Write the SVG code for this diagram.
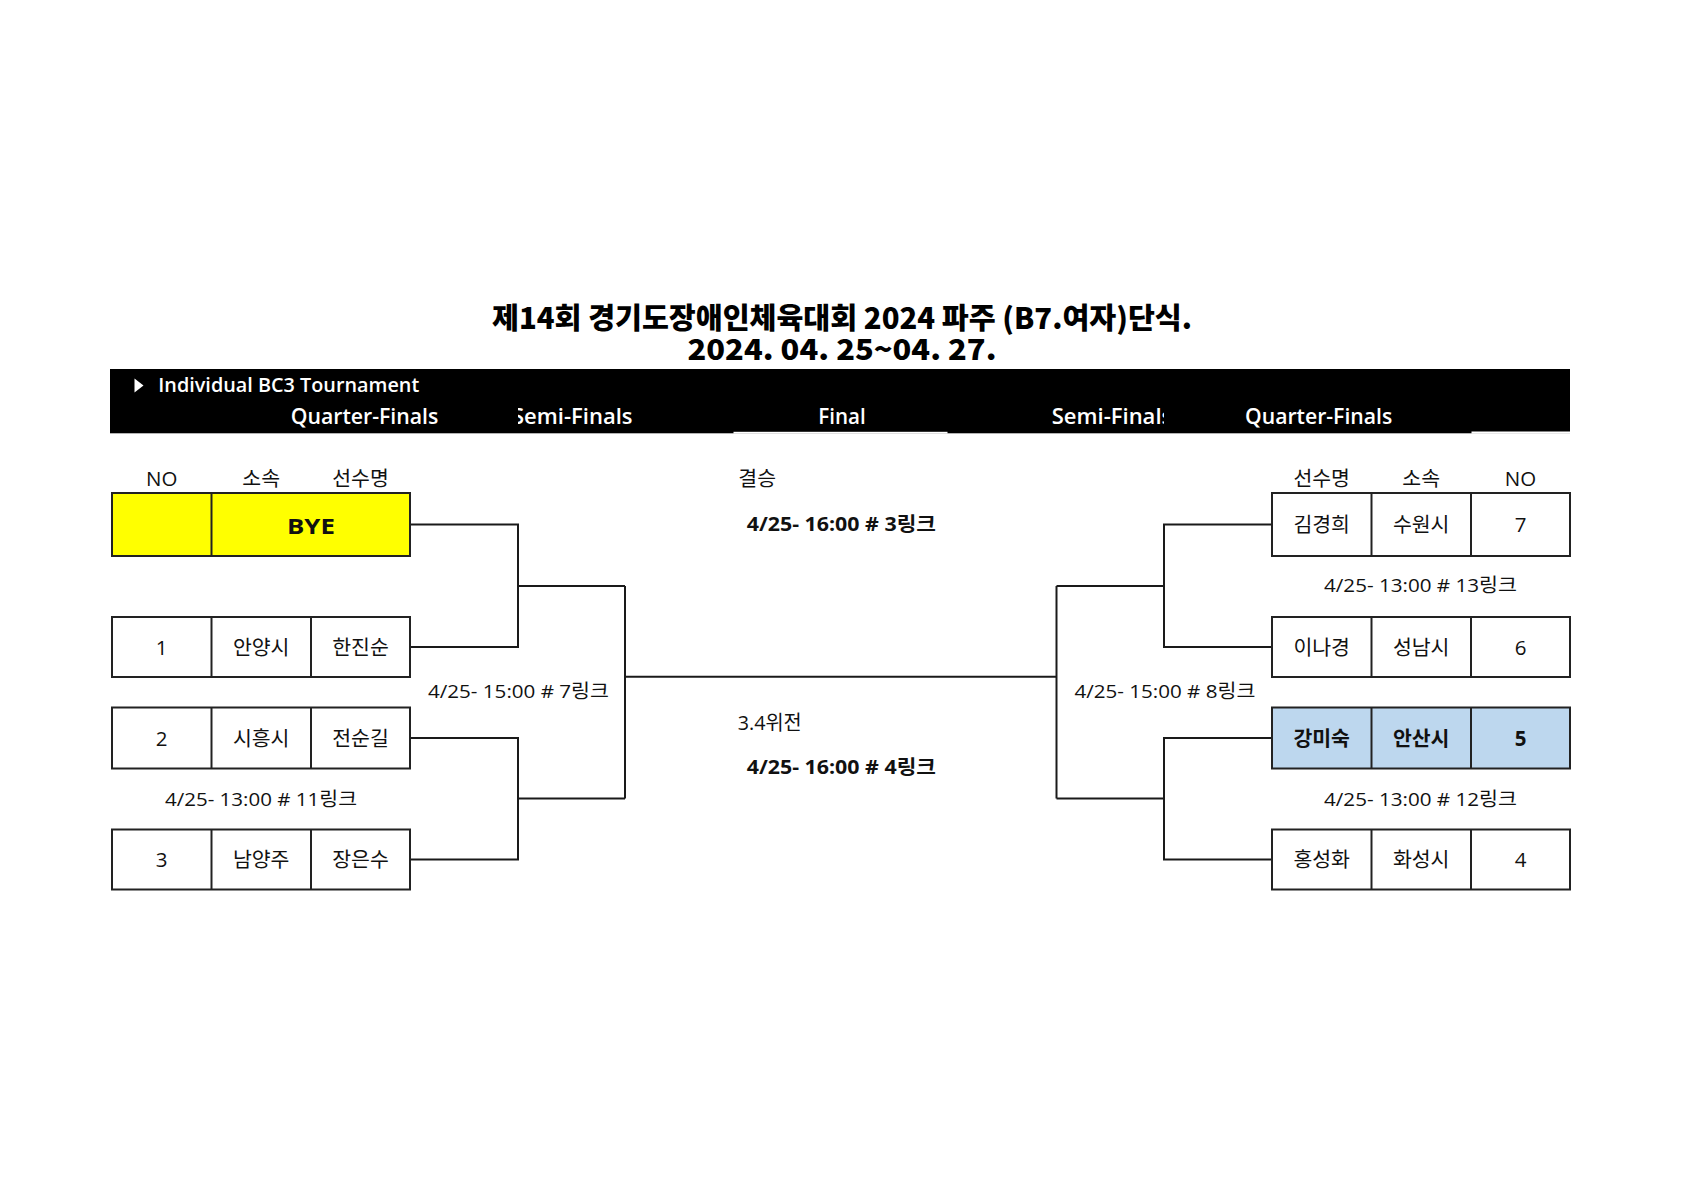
<svg xmlns="http://www.w3.org/2000/svg" width="1684" height="1190" viewBox="0 0 1684 1190">
<style>
.t{font-family:"Open Sans","Noto Sans CJK KR","Noto Sans",sans-serif;fill:#111}
.title{font-family:"Noto Sans CJK KR","Noto Sans",sans-serif;font-weight:900;font-size:29px;fill:#000;text-anchor:middle}
.band{font-family:"Open Sans","Noto Sans CJK KR",sans-serif;font-weight:600;fill:#fff}
.hd{font-size:20.5px;text-anchor:middle}
.cell{font-size:20.5px;text-anchor:middle}
.b{font-weight:700}
.sch{font-size:19px}
.box{fill:#fff;stroke:#222;stroke-width:2}
.div{stroke:#222;stroke-width:2}
.con{fill:none;stroke:#1a1a1a;stroke-width:2}
</style>
<defs>
<clipPath id="clipSemiL"><rect x="518" y="369" width="120" height="64"/></clipPath>
<clipPath id="clipSemiR"><rect x="1040" y="369" width="124" height="64"/></clipPath>
</defs>
<rect width="1684" height="1190" fill="#fff"/>

<g id="title">
<text class="title" x="842" y="329" textLength="700" lengthAdjust="spacingAndGlyphs">제14회 경기도장애인체육대회 2024 파주 (B7.여자)단식.</text>
<text class="title" x="842" y="360" textLength="309" lengthAdjust="spacingAndGlyphs">2024. 04. 25~04. 27.</text>
</g>

<g id="header-band">
<rect x="110" y="369" width="1460" height="64.3" fill="#000"/>
<rect x="733.5" y="431.8" width="214" height="1.8" fill="#fff"/>
<rect x="1471.5" y="431.5" width="99" height="2.2" fill="#fff"/>
<polygon points="134.5,378.5 143.5,385.5 134.5,392.5" fill="#fff"/>
<text class="band" x="158.3" y="392.3" font-size="19.5" textLength="261" lengthAdjust="spacingAndGlyphs">Individual BC3 Tournament</text>
<text class="band" x="290.7" y="424" font-size="21.5" textLength="147.7" lengthAdjust="spacingAndGlyphs">Quarter-Finals</text>
<g clip-path="url(#clipSemiL)"><text class="band" x="512" y="424" font-size="21.5" textLength="120.6" lengthAdjust="spacingAndGlyphs">Semi-Finals</text></g>
<text class="band" x="818.3" y="424" font-size="21.5" textLength="47.4" lengthAdjust="spacingAndGlyphs">Final</text>
<g clip-path="url(#clipSemiR)"><text class="band" x="1051.7" y="424" font-size="21.5" textLength="120.6" lengthAdjust="spacingAndGlyphs">Semi-Finals</text></g>
<text class="band" x="1245" y="424" font-size="21.5" textLength="147.3" lengthAdjust="spacingAndGlyphs">Quarter-Finals</text>
</g>

<g id="col-headers-left">
<text class="t hd" x="161.7" y="486">NO</text>
<text class="t hd" x="261.2" y="486">소속</text>
<text class="t hd" x="360.5" y="486">선수명</text>
</g>
<g id="col-headers-right">
<text class="t hd" x="1321.7" y="486">선수명</text>
<text class="t hd" x="1421.2" y="486">소속</text>
<text class="t hd" x="1520.5" y="486">NO</text>
</g>

<g id="connectors">
<path class="con" d="M410,524.5 H518 V647 H410"/>
<path class="con" d="M518,586 H625"/>
<path class="con" d="M410,738 H518 V859.5 H410"/>
<path class="con" d="M518,798.5 H625"/>
<path class="con" d="M625,586 V798.5"/>
<path class="con" d="M625,676.7 H1056.5"/>
<path class="con" d="M1056.5,586 V798.5"/>
<path class="con" d="M1056.5,586 H1164"/>
<path class="con" d="M1056.5,798.5 H1164"/>
<path class="con" d="M1272,524.5 H1164 V647 H1272"/>
<path class="con" d="M1272,738 H1164 V859.5 H1272"/>
</g>

<g id="left-bye">
<rect class="box" x="112" y="493" width="298" height="63" style="fill:#ffff00"/>
<line class="div" x1="211.5" y1="493" x2="211.5" y2="556"/>
<text class="t cell b" x="311" y="534" font-size="26" textLength="48" lengthAdjust="spacingAndGlyphs">BYE</text>
</g>
<g id="left-1">
<rect class="box" x="112" y="617" width="298" height="60"/>
<line class="div" x1="211.5" y1="617" x2="211.5" y2="677"/>
<line class="div" x1="311" y1="617" x2="311" y2="677"/>
<text class="t cell" x="161.7" y="654.5">1</text>
<text class="t cell" x="261.2" y="654.5">안양시</text>
<text class="t cell" x="360.5" y="654.5">한진순</text>
</g>
<g id="left-2">
<rect class="box" x="112" y="707.5" width="298" height="61"/>
<line class="div" x1="211.5" y1="707.5" x2="211.5" y2="768.5"/>
<line class="div" x1="311" y1="707.5" x2="311" y2="768.5"/>
<text class="t cell" x="161.7" y="745.5">2</text>
<text class="t cell" x="261.2" y="745.5">시흥시</text>
<text class="t cell" x="360.5" y="745.5">전순길</text>
</g>
<g id="left-3">
<rect class="box" x="112" y="829.5" width="298" height="60"/>
<line class="div" x1="211.5" y1="829.5" x2="211.5" y2="889.5"/>
<line class="div" x1="311" y1="829.5" x2="311" y2="889.5"/>
<text class="t cell" x="161.7" y="867">3</text>
<text class="t cell" x="261.2" y="867">남양주</text>
<text class="t cell" x="360.5" y="867">장은수</text>
</g>

<g id="right-7">
<rect class="box" x="1272" y="493" width="298" height="63"/>
<line class="div" x1="1371.5" y1="493" x2="1371.5" y2="556"/>
<line class="div" x1="1471" y1="493" x2="1471" y2="556"/>
<text class="t cell" x="1321.7" y="532">김경희</text>
<text class="t cell" x="1421.2" y="532">수원시</text>
<text class="t cell" x="1520.5" y="532">7</text>
</g>
<g id="right-6">
<rect class="box" x="1272" y="617" width="298" height="60"/>
<line class="div" x1="1371.5" y1="617" x2="1371.5" y2="677"/>
<line class="div" x1="1471" y1="617" x2="1471" y2="677"/>
<text class="t cell" x="1321.7" y="654.5">이나경</text>
<text class="t cell" x="1421.2" y="654.5">성남시</text>
<text class="t cell" x="1520.5" y="654.5">6</text>
</g>
<g id="right-5">
<rect class="box" x="1272" y="707.5" width="298" height="61" style="fill:#bdd7ee"/>
<line class="div" x1="1371.5" y1="707.5" x2="1371.5" y2="768.5"/>
<line class="div" x1="1471" y1="707.5" x2="1471" y2="768.5"/>
<text class="t cell b" x="1321.7" y="745.5">강미숙</text>
<text class="t cell b" x="1421.2" y="745.5">안산시</text>
<text class="t cell b" x="1520.5" y="745.5">5</text>
</g>
<g id="right-4">
<rect class="box" x="1272" y="829.5" width="298" height="60"/>
<line class="div" x1="1371.5" y1="829.5" x2="1371.5" y2="889.5"/>
<line class="div" x1="1471" y1="829.5" x2="1471" y2="889.5"/>
<text class="t cell" x="1321.7" y="867">홍성화</text>
<text class="t cell" x="1421.2" y="867">화성시</text>
<text class="t cell" x="1520.5" y="867">4</text>
</g>

<g id="match-labels">
<text class="t sch" x="428" y="698" textLength="181" lengthAdjust="spacingAndGlyphs">4/25- 15:00 # 7링크</text>
<text class="t sch" x="165" y="805.5" textLength="192" lengthAdjust="spacingAndGlyphs">4/25- 13:00 # 11링크</text>
<text class="t sch" x="1324" y="592" textLength="193" lengthAdjust="spacingAndGlyphs">4/25- 13:00 # 13링크</text>
<text class="t sch" x="1074.4" y="698" textLength="181" lengthAdjust="spacingAndGlyphs">4/25- 15:00 # 8링크</text>
<text class="t sch" x="1324" y="805.5" textLength="193" lengthAdjust="spacingAndGlyphs">4/25- 13:00 # 12링크</text>
</g>

<g id="final-labels">
<text class="t" x="738.3" y="485.5" font-size="20.5">결승</text>
<text class="t b" x="746.7" y="530.5" font-size="19.5" textLength="189.3" lengthAdjust="spacingAndGlyphs">4/25- 16:00 # 3링크</text>
<text class="t" x="737.7" y="730" font-size="20" textLength="64" lengthAdjust="spacingAndGlyphs">3.4위전</text>
<text class="t b" x="746.7" y="773.5" font-size="19.5" textLength="189.3" lengthAdjust="spacingAndGlyphs">4/25- 16:00 # 4링크</text>
</g>
</svg>
